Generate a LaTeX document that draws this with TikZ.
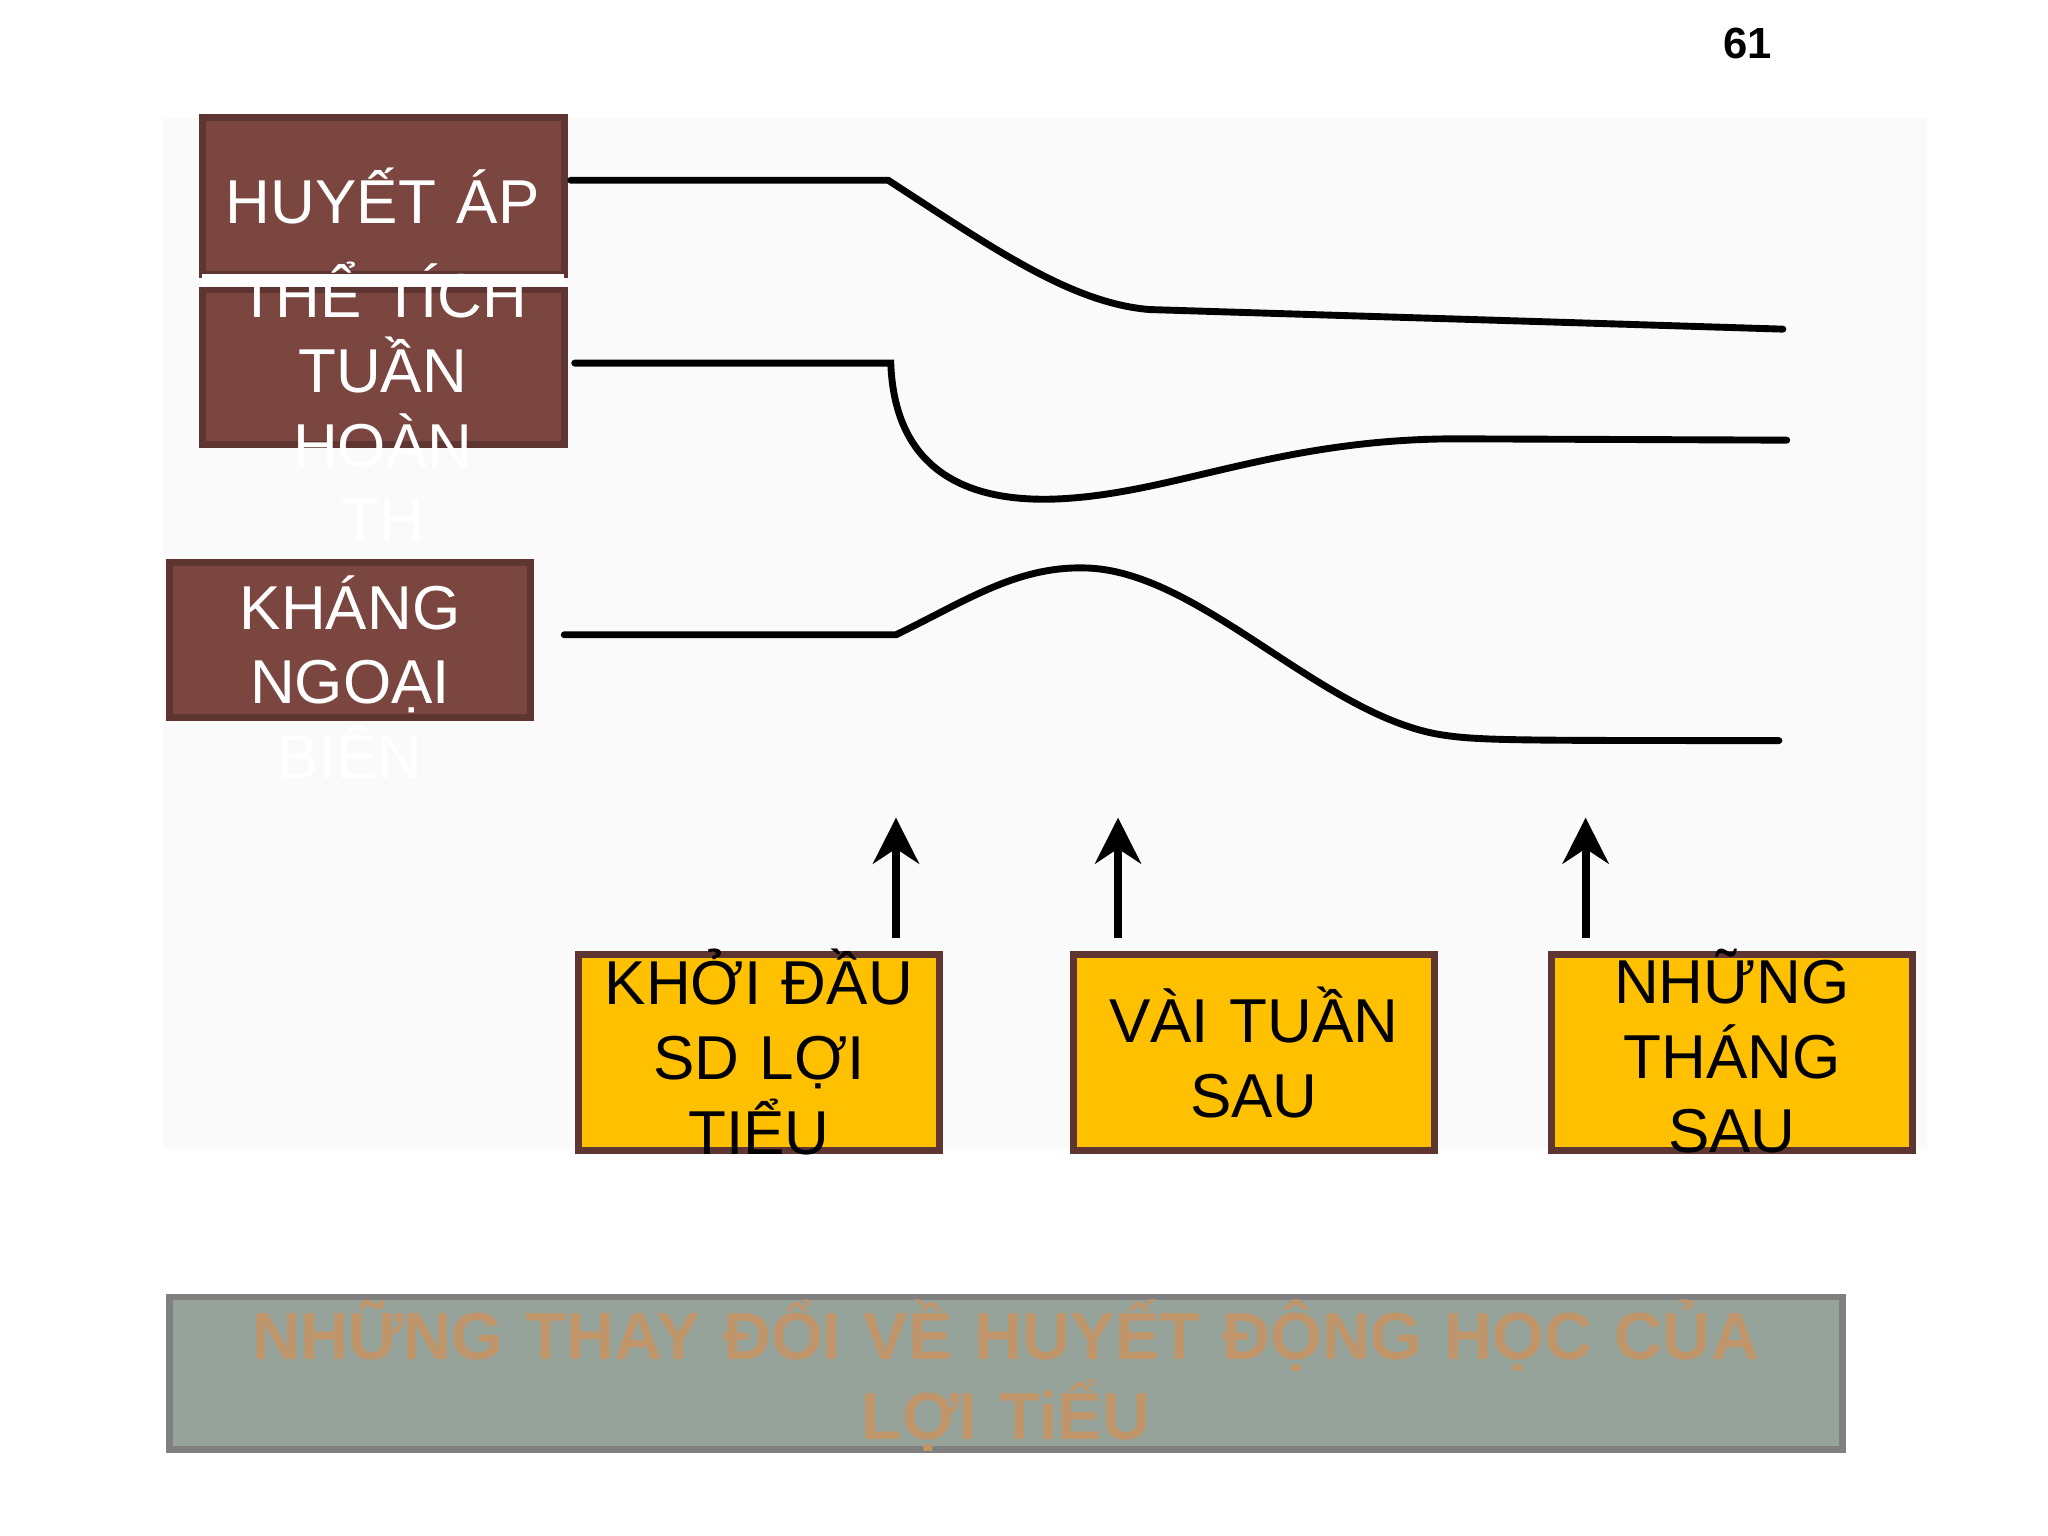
\documentclass[tikz,border=0pt]{standalone}
\usepackage{fontspec}
\setmainfont{Liberation Sans}
\usetikzlibrary{arrows.meta}
\definecolor{brn}{HTML}{7B4540}
\definecolor{brd}{HTML}{5E3530}
\definecolor{yel}{HTML}{FFC000}
\definecolor{gbox}{HTML}{95A39A}
\definecolor{gtxt}{HTML}{C0956A}
\tikzset{
 lbl/.style={draw=brd,line width=1.5pt,fill=brn},
 ybox/.style={draw=brd,line width=1.5pt,fill=yel},
 txt/.style={text width=5cm,align=center,font=\fontsize{13.5}{16.3}\selectfont},
 crv/.style={line width=1.5pt,line cap=round},
 arr/.style={line width=1.8pt,-{Stealth[length=10pt,width=10pt]}}
}
\begin{document}
\begin{tikzpicture}[x=0.01cm,y=-0.01cm]
\useasboundingbox (0,0) rectangle (1568,1176);
\fill[white] (0,0) rectangle (1568,1176);
\fill[black!2] (125,90) rectangle (1475,880);
\node[font=\bfseries\fontsize{9.5}{11}\selectfont] (pg) at (1338,33) {61};
% label boxes
\draw[lbl] (155,90) rectangle (432,210);
\node[txt,white] (t1) at (293,150) {HUYẾT ÁP};
\draw[lbl] (155,222) rectangle (432,340);
\draw[white,line width=2.5pt] (155,214) -- (432,214);
\node[txt,white,anchor=north] (t2) at (293,188) {THỂ TÍCH\\TUẦN\\HOÀN\\TH};
\draw[lbl] (130,431) rectangle (406,549);
\node[txt,white,anchor=north] (t3) at (268,428) {KHÁNG\\NGOẠI\\BIÊN};
% curves
\draw[crv] (437,138) -- (680,138) .. controls (760,190) and (820,232) .. (880,237) -- (1365,252);
\draw[crv] (440,278) -- (682,278) .. controls (685,360) and (740,385) .. (810,382) .. controls (900,378) and (980,335) .. (1120,336) -- (1368,337);
\draw[crv] (432,486) -- (686,486) .. controls (740,460) and (780,432) .. (835,435) .. controls (920,440) and (1010,545) .. (1100,562) .. controls (1130,567) and (1150,567) .. (1362,567);
% yellow boxes
\draw[ybox] (443,731) rectangle (719,881);
\node[txt,anchor=north] (y1) at (581,714) {KHỞI ĐẦU\\SD LỢI\\TIỂU};
\draw[ybox] (822,731) rectangle (1098,881);
\node[txt] (y2) at (960,806) {VÀI TUẦN\\SAU};
\draw[ybox] (1188,731) rectangle (1464,881);
\node[txt,anchor=north] (y3) at (1326,714) {NHỮNG\\THÁNG\\SAU};
\coordinate (a1) at (686,718); \coordinate (b1) at (686,626);
\coordinate (a2) at (856,718); \coordinate (b2) at (856,626);
\coordinate (a3) at (1214,718); \coordinate (b3) at (1214,626);
\draw[arr] (a1) -- (b1);
\draw[arr] (a2) -- (b2);
\draw[arr] (a3) -- (b3);
% bottom
\draw[draw=black!50,line width=1.5pt,fill=gbox] (130,993) rectangle (1411,1110);
\node[text width=13cm,align=center,text=gtxt,font=\bfseries\fontsize{14.5}{17.5}\selectfont] (tt) at (770,1053) {NHỮNG THAY ĐỔI VỀ HUYẾT ĐỘNG HỌC CỦA\\LỢI TiỂU};
\end{tikzpicture}
\end{document}
